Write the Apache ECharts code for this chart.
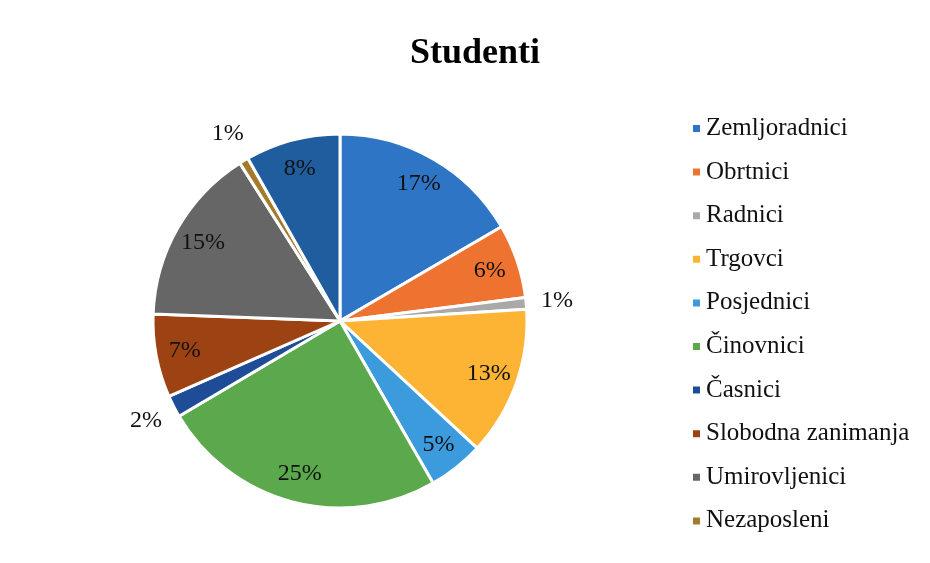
<!DOCTYPE html>
<html>
<head>
<meta charset="utf-8">
<script src="https://cdn.jsdelivr.net/npm/echarts@6/dist/echarts.min.js"></script>
<style>
html,body{margin:0;padding:0;background:#fff;}
#c{width:930px;height:563px;}
</style>
</head>
<body>
<div id="c"></div>
<script>
const categories = ['Zemljoradnici','Obrtnici','Radnici','Trgovci','Posjednici','Činovnici','Časnici','Slobodna zanimanja','Umirovljenici','Nezaposleni','Ostali'];
const values = [16.6, 6.4, 1.0, 12.9, 4.8, 24.8, 1.9, 7.2, 15.4, 0.8, 8.2];
const colors = ['#2E75C6','#EE7330','#A9A9A9','#FDB333','#3B9BDD','#5CA84C','#1E4C96','#9C4213','#666666','#A47A2C','#1F5D9F'];
const legendNames = categories.slice(0, 10);
const outsideLabels = ['Radnici','Časnici','Nezaposleni'];

const R = 187;
const center = [340, 321];
const font = 'Liberation Serif, Times New Roman, serif';
const fmt = p => Math.round(p.percent) + '%';

const mainData = categories.map((n, i) => ({ name: n, value: values[i], itemStyle: { color: colors[i] } }));
const innerLabelData = categories.map((n, i) => ({ name: n, value: values[i], label: { show: outsideLabels.indexOf(n) < 0 } }));
const outerLabelData = categories.map((n, i) => ({ name: n, value: values[i], label: { show: outsideLabels.indexOf(n) >= 0 } }));

const labelBase = { position: 'inside', rotate: 0, formatter: fmt, fontFamily: font, fontSize: 24, color: '#111' };
const ghost = {
  type: 'pie', center: center, silent: true, avoidLabelOverlap: false,
  itemStyle: { color: 'transparent', borderWidth: 0 }, labelLine: { show: false },
  emphasis: { disabled: true }, tooltip: { show: false }, z: 3
};

const chart = echarts.init(document.getElementById('c'));
chart.setOption({
  animation: false,
  backgroundColor: '#fff',
  title: { text: 'Studenti', left: 405, top: 31,
    textStyle: { fontFamily: font, fontSize: 36, fontWeight: 'bold', color: '#000' } },
  legend: {
    data: legendNames, orient: 'vertical', left: 686, top: 111,
    icon: 'rect', itemWidth: 9, itemHeight: 9, itemGap: 18.6,
    textStyle: { fontFamily: font, fontSize: 25, lineHeight: 25, color: '#111', padding: [0, 0, 0, 0] },
    selectedMode: false
  },
  series: [
    { type: 'pie', name: 'Studenti', center: center, radius: [0, R], startAngle: 90, clockwise: true,
      avoidLabelOverlap: false, label: { show: false }, labelLine: { show: false },
      itemStyle: { borderColor: '#fff', borderWidth: 3 }, emphasis: { disabled: true },
      data: mainData },
    Object.assign({}, ghost, { radius: [0, 310], label: labelBase, data: innerLabelData }),
    Object.assign({}, ghost, { radius: [0, 430], label: labelBase, data: outerLabelData })
  ]
});
</script>
</body>
</html>
